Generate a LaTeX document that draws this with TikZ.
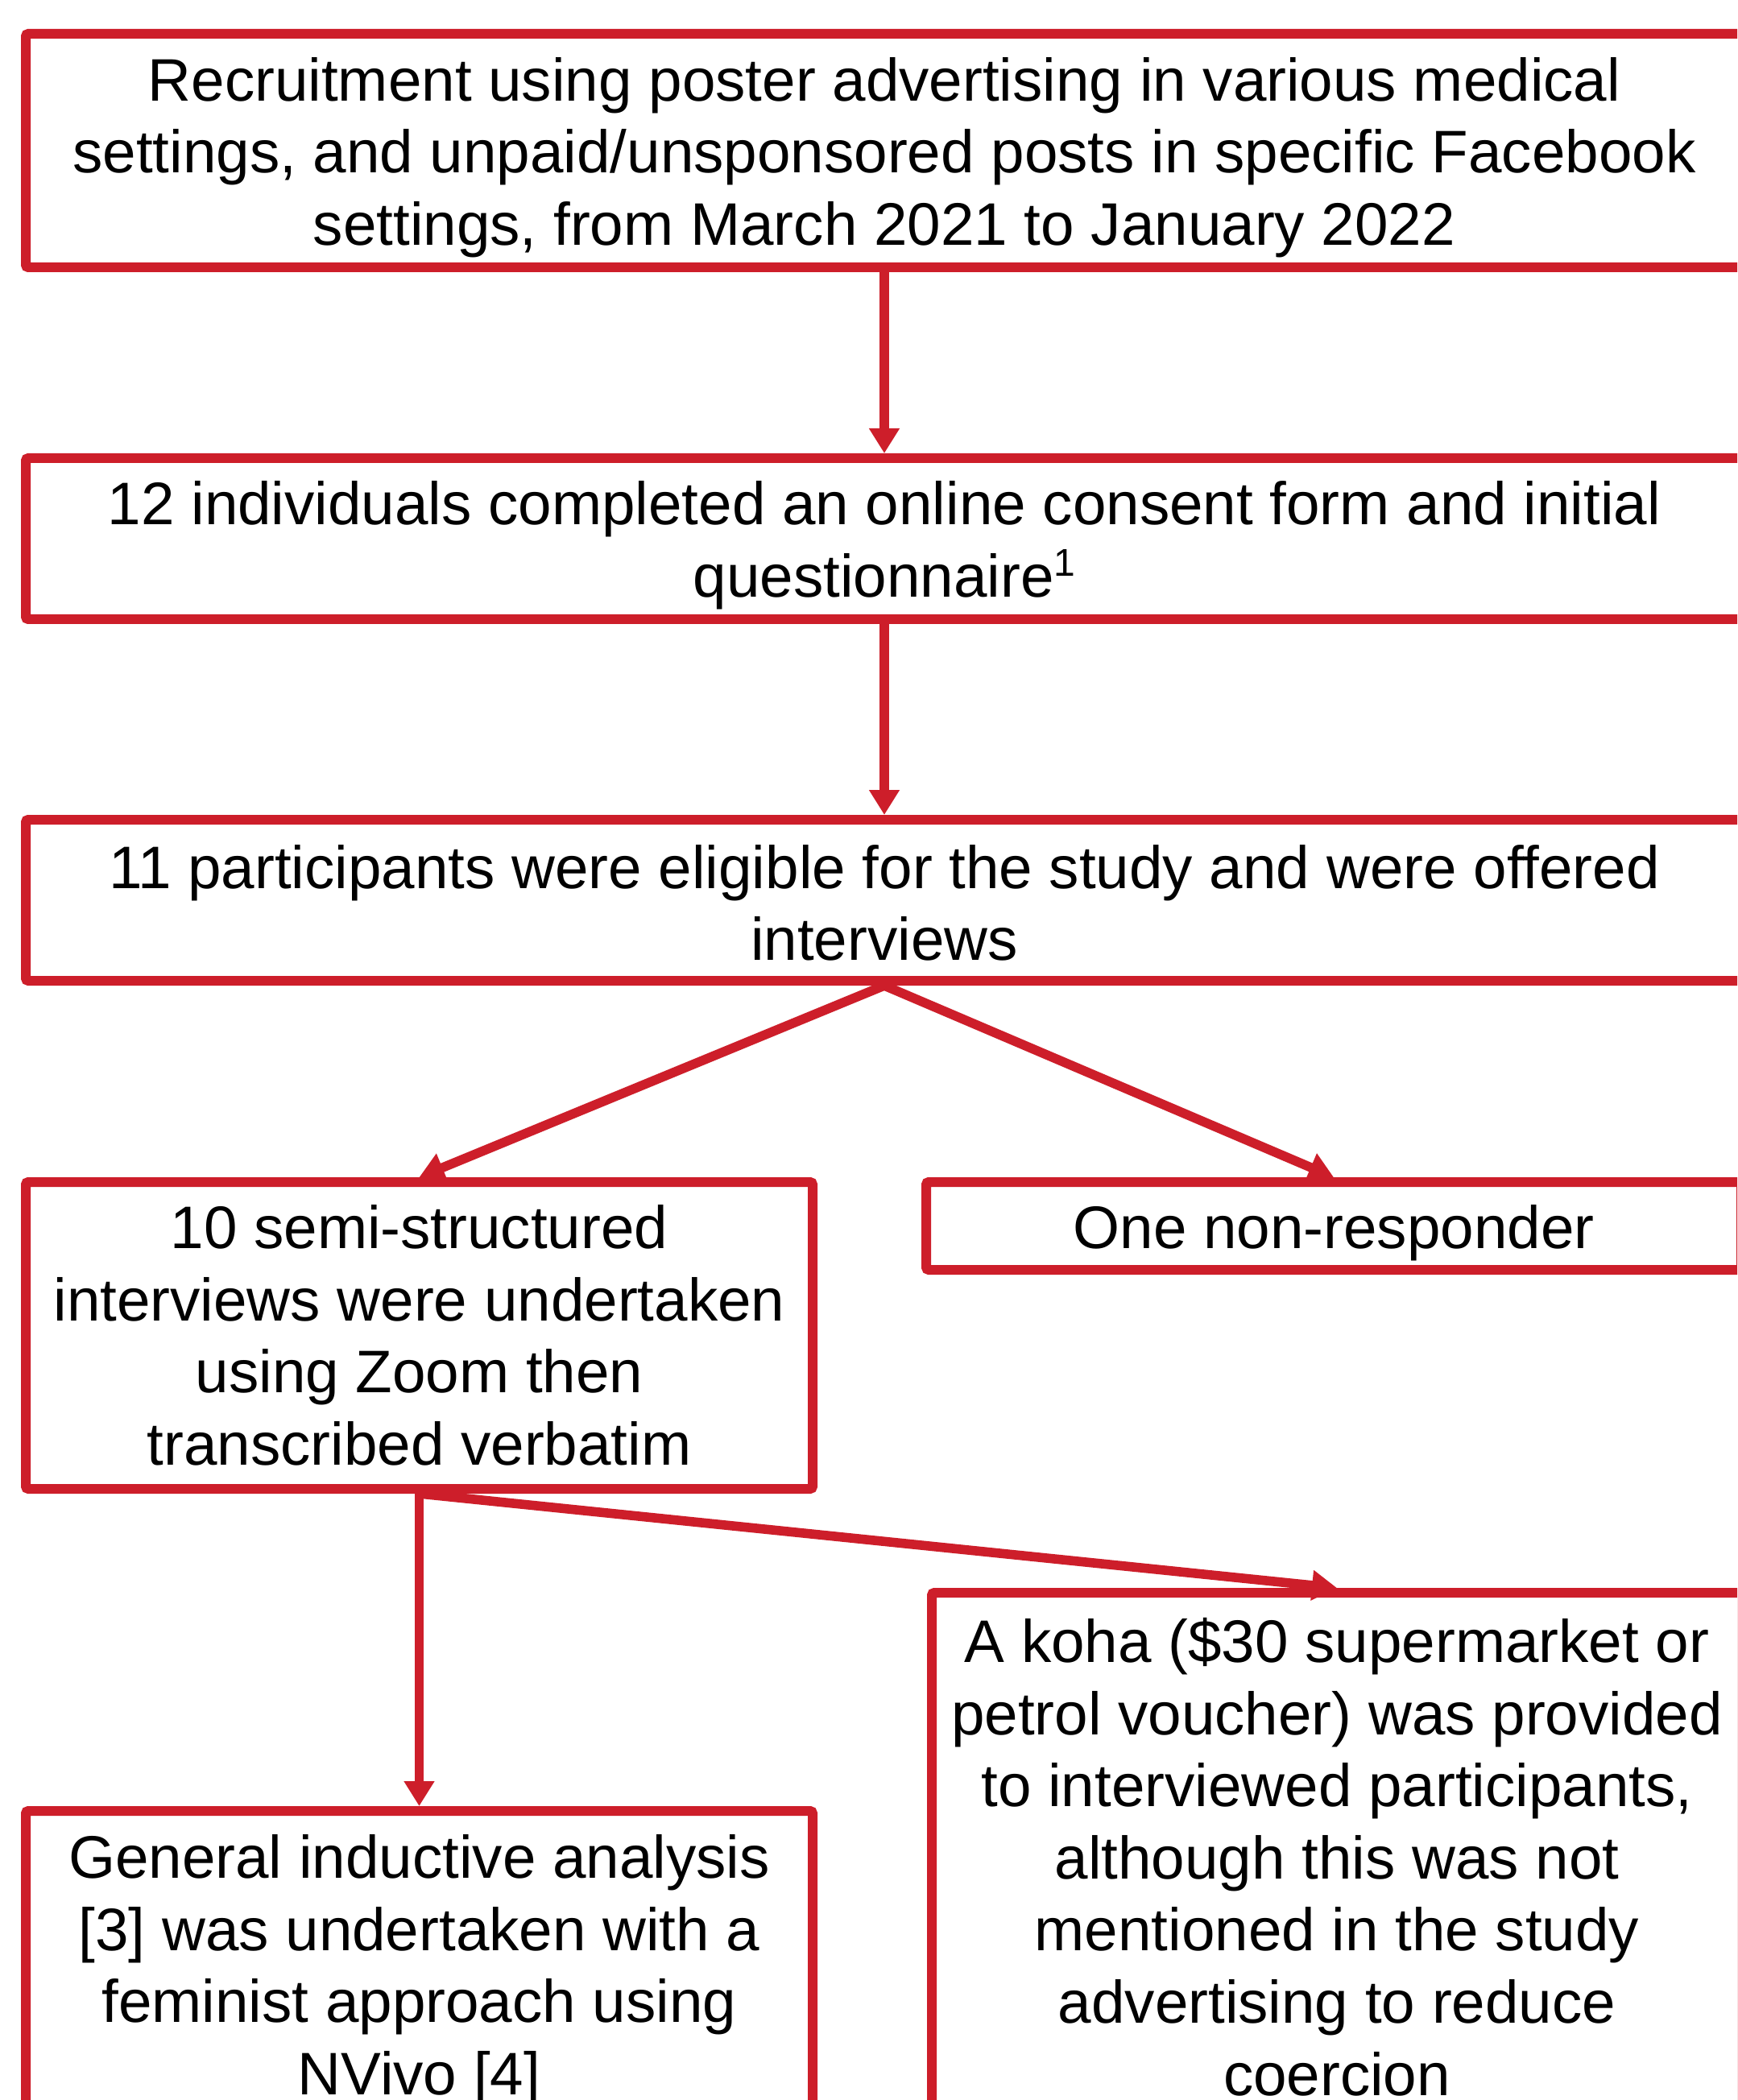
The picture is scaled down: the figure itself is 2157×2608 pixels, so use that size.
\documentclass[tikz,border=0pt]{standalone}
\usepackage{fontspec}
\setmainfont{Liberation Sans}
\usetikzlibrary{arrows.meta}
\definecolor{boxred}{RGB}{205,30,42}
% raise the height of a first line so that the text block moves down by half of #1
\newcommand{\tallline}[2]{\raisebox{0pt}[\dimexpr\height+#1\relax][\depth]{#2}}
\begin{document}
\begin{tikzpicture}[x=0.25pt,y=-0.25pt,
  flowbox/.style={draw=boxred, line width=3pt, rounded corners=0.8pt, fill=white,
    align=center, inner sep=0pt,
    font=\fontsize{18.65pt}{22.4pt}\selectfont},
  arr/.style={draw=boxred, line width=2.9pt, -{Triangle[length=7.75pt,width=9pt]}}]
\useasboundingbox (0,0) rectangle (2157,2608);
\fill[white] (0,0) rectangle (2157,2608);
\clip (0,0) rectangle (2157,2608);

\node[flowbox, minimum width=533pt, minimum height=72.5pt] (b1) at (1098,187)
  {\tallline{4.2pt}{Recruitment using poster advertising in various medical}\\
   settings, and unpaid/unsponsored posts in specific Facebook\\
   settings, from March 2021 to January 2022};
\node[flowbox, minimum width=533pt, minimum height=50pt] (b2) at (1098,669)
  {\tallline{4.2pt}{12 individuals completed an online consent form and initial}\\
   questionnaire{\fontsize{12pt}{12pt}\selectfont\raisebox{0.55em}{1}}};
\node[flowbox, minimum width=533pt, minimum height=50pt] (b3) at (1098,1118)
  {\tallline{1.7pt}{11 participants were eligible for the study and were offered}\\
   interviews};
\node[flowbox, minimum width=244.25pt, minimum height=95.25pt] (b4) at (520.5,1658.5)
  {10 semi-structured\\ interviews were undertaken\\ using Zoom then\\ transcribed verbatim};
\node[flowbox, minimum width=253pt, minimum height=27.25pt] (b5) at (1656,1522.5)
  {\tallline{4.2pt}{One non-responder}};
\node[flowbox, minimum width=244.25pt, minimum height=96pt] (b6) at (520.5,2441)
  {\tallline{3.3pt}{General inductive analysis}\\ {[3]} was undertaken with a\\ feminist approach using\\ NVivo {[4]}};
\node[flowbox, minimum width=251.5pt, minimum height=164pt] (b7) at (1660,2306)
  {A koha (\$30 supermarket or\\ petrol voucher) was provided\\ to interviewed participants,\\
   although this was not\\ mentioned in the study\\ advertising to reduce\\ coercion};

\draw[arr] (b1.south) -- (b2.north);
\draw[arr] (b2.south) -- (b3.north);
\draw[arr] (b3.south) -- (b4.north);
\draw[arr] (b3.south) -- (b5.north);
\draw[arr] (b4.south) -- (b6.north);
\draw[arr] (b4.south) -- (b7.north);
\end{tikzpicture}
\end{document}
